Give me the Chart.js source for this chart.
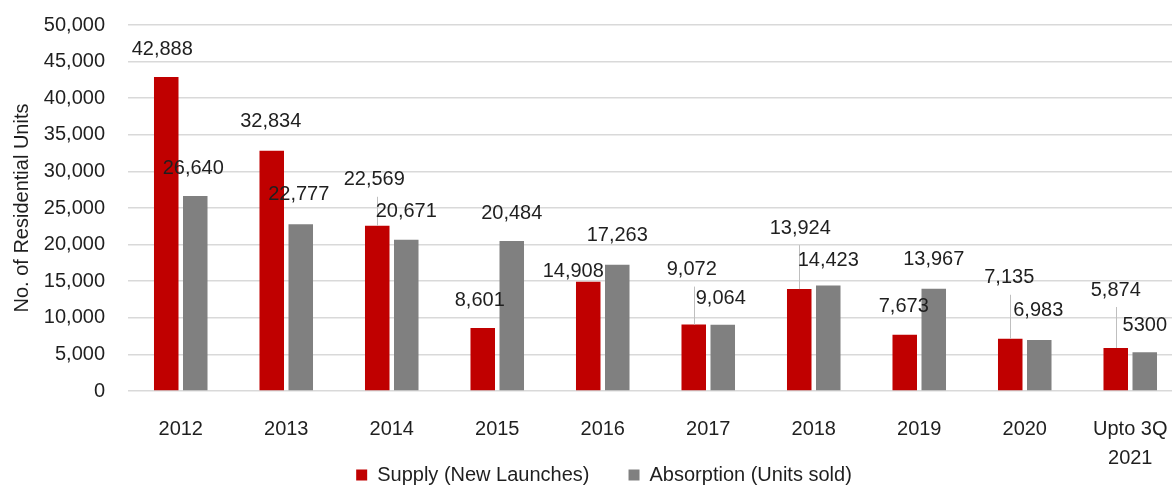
<!DOCTYPE html>
<html><head><meta charset="utf-8">
<script src="https://cdn.jsdelivr.net/npm/chart.js@4.4.1/dist/chart.umd.min.js"></script>
<style>html,body{margin:0;padding:0;overflow:hidden;background:#fff;}
#wrap{position:relative;width:1208px;height:486px;}</style></head>
<body><div id="wrap"><canvas id="c"></canvas></div>
<script>
const categories = ['2012','2013','2014','2015','2016','2017','2018','2019','2020',['Upto 3Q','2021']];
const supply = [42888,32834,22569,8601,14908,9072,13924,7673,7135,5874];
const absorption = [26640,22777,20671,20484,17263,9064,14423,13967,6983,5300];
const supplyLabelText = ['42,888','32,834','22,569','8,601','14,908','9,072','13,924','7,673','7,135','5,874'];
const absorptionLabelText = ['26,640','22,777','20,671','20,484','17,263','9,064','14,423','13,967','6,983','5300'];
const seriesNames = ['Supply (New Launches)','Absorption (Units sold)'];
const yAxisTitle = 'No. of Residential Units';

// label placement relative to the top-centre of each bar (px)
const supplyLabelDx = [-4,-1,-3,-3,-15,-2,1,-1,-1,0];
const supplyLabelDy = [-28,-29,-46,-28,-10,-55,-61,-28,-61,-58];
const supplyLeader = [false,false,true,false,false,true,true,false,true,true];
const absorptionLabelDx = [-2,-2,0,0,0,-2,0,0,-1,0];
const absorptionLabelDy = [-28,-30,-28,-28,-29,-26,-25,-29,-29,-27];

const FONT = "'Liberation Sans', Arial, sans-serif";
const TXT = '#1f1f1f';

const labelPlugin = {
  id: 'barLabels',
  afterLayout(chart) {
    // let the category labels (two-line last label) extend below the axis box without clipping
    const xs = chart.scales.x;
    xs.bottom = xs.top + 85;
    xs.height = 85;
  },
  afterDatasetsDraw(chart) {
    const ctx = chart.ctx;
    const cfg = [
      {text: supplyLabelText, dx: supplyLabelDx, dy: supplyLabelDy, leader: supplyLeader},
      {text: absorptionLabelText, dx: absorptionLabelDx, dy: absorptionLabelDy, leader: null}
    ];
    ctx.save();
    ctx.font = '20px ' + FONT;
    ctx.textAlign = 'center';
    ctx.textBaseline = 'middle';
    cfg.forEach((c, di) => {
      const meta = chart.getDatasetMeta(di);
      meta.data.forEach((bar, i) => {
        const lx = bar.x + c.dx[i];
        const ly = bar.y + c.dy[i];
        if (c.leader && c.leader[i]) {
          ctx.strokeStyle = '#bfbfbf';
          ctx.lineWidth = 1;
          ctx.beginPath();
          ctx.moveTo(Math.round(bar.x) + 0.5, bar.y);
          ctx.lineTo(Math.round(bar.x) + 0.5, ly + 17);
          ctx.stroke();
        }
        ctx.fillStyle = TXT;
        ctx.fillText(c.text[i], lx, ly);
      });
    });
    ctx.restore();
  }
};

new Chart(document.getElementById('c'), {
  type: 'bar',
  data: {
    labels: categories,
    datasets: [
      {label: seriesNames[0], data: supply, backgroundColor: '#c00000', borderWidth: 0,
       categoryPercentage: 0.55, barPercentage: 0.845},
      {label: seriesNames[1], data: absorption, backgroundColor: '#808080', borderWidth: 0,
       categoryPercentage: 0.55, barPercentage: 0.845}
    ]
  },
  plugins: [labelPlugin],
  options: {
    responsive: true, maintainAspectRatio: false, animation: false,
    layout: {padding: {top: 25, bottom: -9, left: 0, right: 0}},
    plugins: {
      legend: {position: 'bottom',
        labels: {boxWidth: 11, boxHeight: 11, padding: 39, color: TXT, font: {size: 20, family: FONT}}},
      tooltip: {enabled: false}
    },
    scales: {
      x: {
        grid: {display: false}, border: {display: false},
        ticks: {color: TXT, font: {size: 20, family: FONT, lineHeight: 1.45}, padding: 16, maxRotation: 0, autoSkip: false},
        afterFit: s => { s.height = 35; }
      },
      y: {
        min: 0, max: 50000,
        ticks: {stepSize: 5000, color: TXT, font: {size: 20, family: FONT}, padding: 23,
          callback: v => v.toLocaleString('en-US')},
        grid: {color: '#d9d9d9', lineWidth: 1.5, drawTicks: false},
        border: {display: false},
        title: {display: true, text: yAxisTitle, color: TXT, font: {size: 20, family: FONT}, padding: {top: 10, bottom: 0}},
        afterFit: s => { s.width = 128; s.paddingTop = 0; s.paddingBottom = 0; }
      },
      y2: {
        type: 'linear', position: 'right', display: true,
        grid: {display: false}, border: {display: false}, ticks: {display: false},
        afterFit: s => { s.width = 25; s.paddingTop = 0; s.paddingBottom = 0; }
      }
    }
  }
});
</script></body></html>
